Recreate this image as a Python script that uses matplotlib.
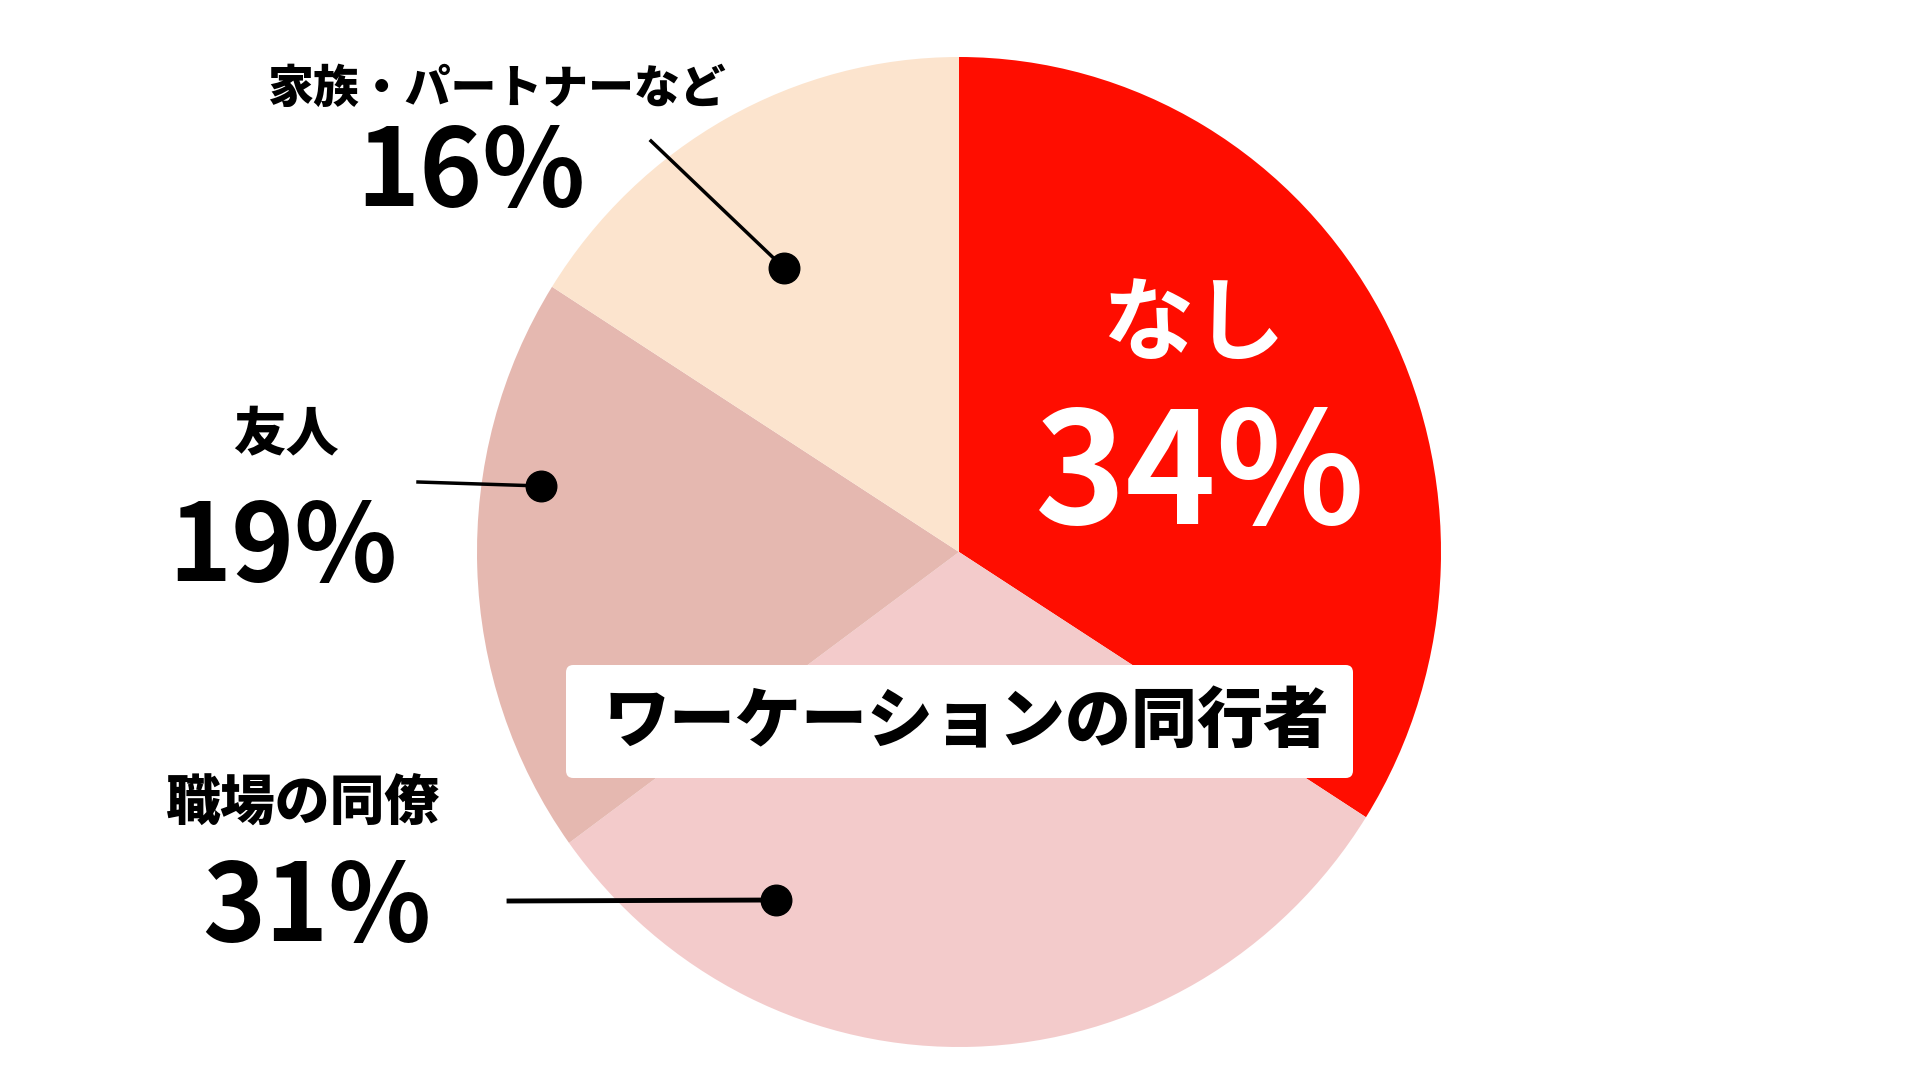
import matplotlib.pyplot as plt
from matplotlib.patches import FancyBboxPatch

plt.rcParams['font.family'] = ['Noto Sans CJK JP', 'DejaVu Sans']

# data
labels = ['なし', '職場の同僚', '友人', '家族・パートナーなど']
values = [34, 31, 19, 16]
colors = ['#ff0d00', '#f3cbcb', '#e5b8b0', '#fce4ce']
title = 'ワーケーションの同行者'

# figure: pie centre at pixel (959, 552), 482 px/unit across, 495 px/unit down
CX, CY, SX, SY = 959, 552, 482, 495
fig = plt.figure(figsize=(19.2, 10.8), dpi=100)
ax = fig.add_axes([0, 0, 1, 1])
ax.pie(values, colors=colors, startangle=90, counterclock=False,
       radius=1, center=(0, 0), wedgeprops=dict(linewidth=0))
ax.set_aspect('auto')
ax.set_xlim(-CX / SX, (1920 - CX) / SX)
ax.set_ylim((CY - 1080) / SY, CY / SY)
ax.axis('off')


def px(x, y):
    return (x - CX) / SX, (CY - y) / SY


# title box
x0, y0 = px(566, 778)
x1, y1 = px(1353, 665)
box = FancyBboxPatch((x0, y0), x1 - x0, y1 - y0,
                     boxstyle='round,pad=0,rounding_size=0.015',
                     fc='white', ec='none', zorder=5)
ax.add_patch(box)
ax.text(*px(967, 722), title, fontsize=47.5, fontweight='black',
        ha='center', va='center', zorder=6)

# なし (inside)
ax.text(*px(1194, 326), labels[0], fontsize=66, fontweight='bold',
        color='white', ha='center', va='center', zorder=6)
ax.text(*px(1200, 478), f'{values[0]}%', fontsize=111, fontweight='bold',
        color='white', ha='center', va='center', zorder=6)

# outside labels: (label pos, label size, value pos, line start, dot pos, line width)
outside = [
    (1, (303, 803), 39.5, (317, 910), (509, 901), (776, 900), 3.5),
    (2, (286, 435), 38, (283, 550), (418, 482), (541, 486), 2.5),
    (3, (496, 89), 33, (471, 175), (651, 141), (784, 268), 2.5),
]
for i, lp, ls_, vp, ls, dp, lw in outside:
    ax.text(*px(*lp), labels[i], fontsize=ls_, fontweight='black',
            ha='center', va='center', zorder=6)
    ax.text(*px(*vp), f'{values[i]}%', fontsize=77, fontweight='bold',
            ha='center', va='center', zorder=6)
    (lx, ly), (dx, dy) = px(*ls), px(*dp)
    ax.plot([lx, dx], [ly, dy], color='black', lw=lw, zorder=6)
    ax.plot(dx, dy, 'o', color='black', markersize=22, zorder=7)

fig.savefig('out.png', dpi=100, facecolor='white')
